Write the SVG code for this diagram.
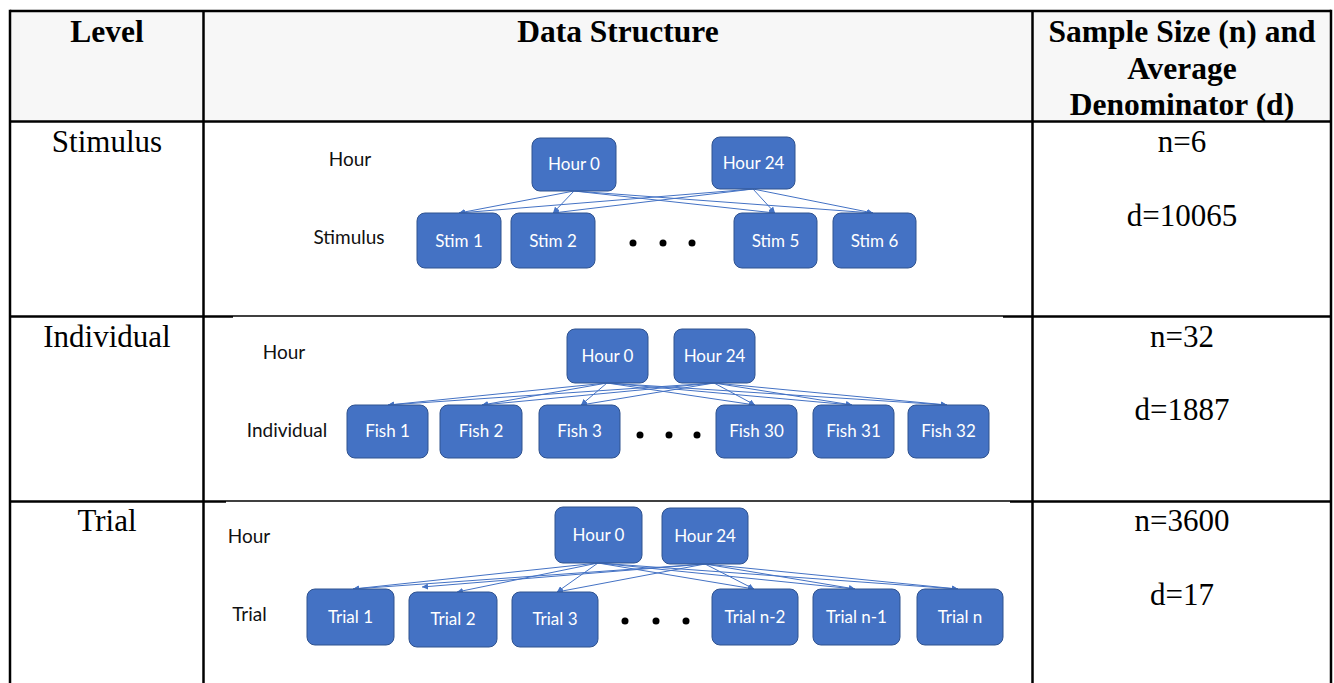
<svg xmlns="http://www.w3.org/2000/svg" width="1334" height="683" viewBox="0 0 1334 683">
<style>
.hdr{font-family:"Liberation Serif","Times New Roman",serif;font-weight:bold;font-size:31.5px;fill:#000;text-anchor:middle}
.cell{font-family:"Liberation Serif","Times New Roman",serif;font-size:31px;fill:#000;text-anchor:middle}
.lbl{font-family:Lato,"Noto Sans",sans-serif;font-size:19px;fill:#111;text-anchor:middle}
.node rect{fill:#4472C4;stroke:#2F528F;stroke-width:1}
.node text{font-family:Lato,"Noto Sans",sans-serif;font-size:17px;fill:#fff;text-anchor:middle}
.grid{stroke:#000;stroke-width:2.5;fill:none}
.thin{stroke:#000;stroke-width:1.3;fill:none}
.conn line{stroke:#4472C4;stroke-width:1;marker-end:url(#ah)}
.dot{fill:#000}
</style>
<defs>
<marker id="ah" viewBox="0 0 6 6" refX="6" refY="3" markerWidth="6" markerHeight="6" orient="auto" markerUnits="userSpaceOnUse">
<path d="M0,0 L6,3 L0,6 z" fill="#4472C4"/>
</marker>
</defs>
<rect x="0" y="0" width="1334" height="683" fill="#fff"/>
<rect x="10" y="11" width="1321" height="110" fill="#f7f7f7"/>

<g id="table">
<line class="grid" x1="10" y1="11" x2="1331" y2="11"/>
<line class="grid" x1="10" y1="9.8" x2="10" y2="683"/>
<line class="grid" x1="203.5" y1="11" x2="203.5" y2="683"/>
<line class="grid" x1="1032.5" y1="11" x2="1032.5" y2="683"/>
<line class="grid" x1="1331" y1="9.8" x2="1331" y2="683"/>
<line class="grid" x1="10" y1="121.5" x2="1331" y2="121.5"/>
<line class="grid" x1="10" y1="316.5" x2="233" y2="316.5"/>
<line class="thin" x1="233" y1="316" x2="1003" y2="316"/>
<line class="grid" x1="1003" y1="316.5" x2="1331" y2="316.5"/>
<line class="grid" x1="10" y1="501.5" x2="226" y2="501.5"/>
<line class="thin" x1="226" y1="501" x2="1010" y2="501"/>
<line class="grid" x1="1010" y1="501.5" x2="1331" y2="501.5"/>
</g>

<g id="headers">
<text class="hdr" x="107" y="42">Level</text>
<text class="hdr" x="618" y="42">Data Structure</text>
<text class="hdr" x="1182" y="42">Sample Size (n) and</text>
<text class="hdr" x="1182" y="79">Average</text>
<text class="hdr" x="1182" y="115">Denominator (d)</text>
</g>

<g id="cells">
<text class="cell" x="107" y="152">Stimulus</text>
<text class="cell" x="1182" y="152">n=6</text>
<text class="cell" x="1182" y="226">d=10065</text>
<text class="cell" x="107" y="347">Individual</text>
<text class="cell" x="1182" y="347">n=32</text>
<text class="cell" x="1182" y="420">d=1887</text>
<text class="cell" x="107" y="531">Trial</text>
<text class="cell" x="1182" y="531">n=3600</text>
<text class="cell" x="1182" y="605">d=17</text>
</g>

<g id="labels">
<text class="lbl" x="350" y="166">Hour</text>
<text class="lbl" x="349" y="244">Stimulus</text>
<text class="lbl" x="284" y="359">Hour</text>
<text class="lbl" x="287" y="437">Individual</text>
<text class="lbl" x="249" y="543">Hour</text>
<text class="lbl" x="249.5" y="621">Trial</text>
</g>

<g id="connectors" class="conn">
<line x1="574" y1="191" x2="459" y2="213"/>
<line x1="574" y1="191" x2="553" y2="213"/>
<line x1="574" y1="191" x2="775" y2="213"/>
<line x1="574" y1="191" x2="873" y2="213"/>
<line x1="753" y1="189" x2="459" y2="213"/>
<line x1="753" y1="189" x2="553" y2="213"/>
<line x1="753" y1="189" x2="775" y2="213"/>
<line x1="753" y1="189" x2="873" y2="213"/>

<line x1="607" y1="383" x2="388" y2="405"/>
<line x1="607" y1="383" x2="482" y2="405"/>
<line x1="607" y1="383" x2="581" y2="405"/>
<line x1="607" y1="383" x2="755" y2="405"/>
<line x1="607" y1="383" x2="852" y2="405"/>
<line x1="607" y1="383" x2="947" y2="405"/>
<line x1="714" y1="383" x2="388" y2="405"/>
<line x1="714" y1="383" x2="482" y2="405"/>
<line x1="714" y1="383" x2="581" y2="405"/>
<line x1="714" y1="383" x2="755" y2="405"/>
<line x1="714" y1="383" x2="852" y2="405"/>
<line x1="714" y1="383" x2="947" y2="405"/>

<line x1="598" y1="563" x2="353" y2="589"/>
<line x1="598" y1="563" x2="457" y2="592"/>
<line x1="598" y1="563" x2="557" y2="592"/>
<line x1="598" y1="563" x2="754" y2="589"/>
<line x1="598" y1="563" x2="855" y2="589"/>
<line x1="598" y1="563" x2="958" y2="589"/>
<line x1="705" y1="564" x2="353" y2="589"/>
<line x1="705" y1="564" x2="422" y2="587"/>
<line x1="705" y1="564" x2="557" y2="592"/>
<line x1="705" y1="564" x2="754" y2="589"/>
<line x1="705" y1="564" x2="855" y2="589"/>
<line x1="705" y1="564" x2="958" y2="589"/>
</g>

<g id="r1-hour0" class="node"><rect x="532" y="138" width="84" height="53" rx="8"/><text x="574" y="170">Hour 0</text></g>
<g id="r1-hour24" class="node"><rect x="712" y="137" width="83" height="52" rx="8"/><text x="753.5" y="169">Hour 24</text></g>
<g id="r1-stim1" class="node"><rect x="417" y="213" width="84" height="55" rx="8"/><text x="459" y="247">Stim 1</text></g>
<g id="r1-stim2" class="node"><rect x="511" y="213" width="84" height="55" rx="8"/><text x="553" y="247">Stim 2</text></g>
<g id="r1-stim5" class="node"><rect x="734" y="213" width="83" height="55" rx="8"/><text x="775.5" y="247">Stim 5</text></g>
<g id="r1-stim6" class="node"><rect x="833" y="213" width="83" height="55" rx="8"/><text x="874.5" y="247">Stim 6</text></g>
<g id="r1-dots"><circle class="dot" cx="633" cy="243" r="3.5"/><circle class="dot" cx="663" cy="243" r="3.5"/><circle class="dot" cx="692" cy="243" r="3.5"/></g>

<g id="r2-hour0" class="node"><rect x="567" y="329" width="81" height="54" rx="8"/><text x="607.5" y="362">Hour 0</text></g>
<g id="r2-hour24" class="node"><rect x="674" y="329" width="81" height="54" rx="8"/><text x="714.5" y="362">Hour 24</text></g>
<g id="r2-fish1" class="node"><rect x="347" y="405" width="81" height="53" rx="8"/><text x="387.5" y="437">Fish 1</text></g>
<g id="r2-fish2" class="node"><rect x="440" y="405" width="82" height="53" rx="8"/><text x="481" y="437">Fish 2</text></g>
<g id="r2-fish3" class="node"><rect x="539" y="405" width="81" height="53" rx="8"/><text x="579.5" y="437">Fish 3</text></g>
<g id="r2-fish30" class="node"><rect x="716" y="405" width="81" height="53" rx="8"/><text x="756.5" y="437">Fish 30</text></g>
<g id="r2-fish31" class="node"><rect x="813" y="405" width="81" height="53" rx="8"/><text x="853.5" y="437">Fish 31</text></g>
<g id="r2-fish32" class="node"><rect x="908" y="405" width="81" height="53" rx="8"/><text x="948.5" y="437">Fish 32</text></g>
<g id="r2-dots"><circle class="dot" cx="640" cy="435" r="3.5"/><circle class="dot" cx="669" cy="435" r="3.5"/><circle class="dot" cx="697" cy="435" r="3.5"/></g>

<g id="r3-hour0" class="node"><rect x="555" y="507" width="87" height="56" rx="8"/><text x="598.5" y="541">Hour 0</text></g>
<g id="r3-hour24" class="node"><rect x="662" y="508" width="86" height="56" rx="8"/><text x="705" y="542">Hour 24</text></g>
<g id="r3-trial1" class="node"><rect x="307" y="589" width="87" height="56" rx="8"/><text x="350.5" y="623">Trial 1</text></g>
<g id="r3-trial2" class="node"><rect x="409" y="592" width="88" height="55" rx="8"/><text x="453" y="625">Trial 2</text></g>
<g id="r3-trial3" class="node"><rect x="512" y="592" width="86" height="55" rx="8"/><text x="555" y="625">Trial 3</text></g>
<g id="r3-trialn2" class="node"><rect x="712" y="589" width="86" height="56" rx="8"/><text x="755" y="623">Trial n-2</text></g>
<g id="r3-trialn1" class="node"><rect x="813" y="589" width="87" height="56" rx="8"/><text x="856.5" y="623">Trial n-1</text></g>
<g id="r3-trialn" class="node"><rect x="917" y="589" width="86" height="56" rx="8"/><text x="960" y="623">Trial n</text></g>
<g id="r3-dots"><circle class="dot" cx="625" cy="621" r="3.5"/><circle class="dot" cx="656" cy="621" r="3.5"/><circle class="dot" cx="686" cy="621" r="3.5"/></g>
</svg>
